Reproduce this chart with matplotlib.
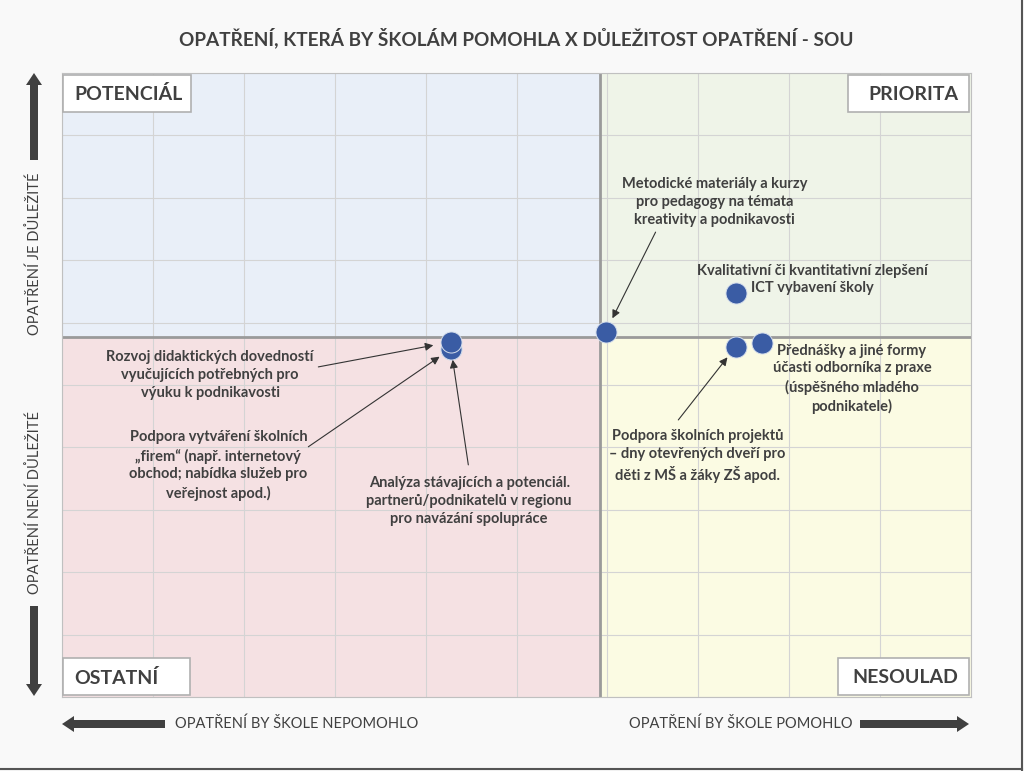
import matplotlib.pyplot as plt
from matplotlib.patches import Rectangle, FancyArrow

plt.rcParams["font.family"] = ["Lato", "DejaVu Sans"]

# Data: position of each measure (x = helped the school, y = importance)
measures = [
    "Metodické materiály a kurzy\npro pedagogy na témata\nkreativity a podnikavosti",
    "Kvalitativní či kvantitativní zlepšení\nICT vybavení školy",
    "Přednášky a jiné formy\núčasti odborníka z praxe\n(úspěšného mladého\npodnikatele)",
    "Podpora školních projektů\n– dny otevřených dveří pro\nděti z MŠ a žáky ZŠ apod.",
    "Rozvoj didaktických dovedností\nvyučujících potřebných pro\nvýuku k podnikavosti",
    "Podpora vytváření školních\n„firem“ (např. internetový\nobchod; nabídka služeb pro\nveřejnost apod.)",
    "Analýza stávajících a potenciál.\npartnerů/podnikatelů v regionu\npro navázání spolupráce",
]
x_help = [5.98, 7.41, 7.70, 7.41, 4.28, 4.28, 4.28]
y_importance = [5.85, 6.47, 5.67, 5.61, 5.69, 5.58, 5.58]
x_split = 5.92
y_split = 5.77

quadrants = ["POTENCIÁL", "PRIORITA", "OSTATNÍ", "NESOULAD"]
title = "OPATŘENÍ, KTERÁ BY ŠKOLÁM POMOHLA X DŮLEŽITOST OPATŘENÍ - SOU"

# Layout for labels: text centre, arrow start (None = no arrow), arrow shrink
label_pos = [(7.18, 7.93), (8.26, 6.69), (8.69, 5.10), (6.99, 3.86),
             (1.63, 5.16), (1.72, 3.71), (4.48, 3.14)]
arrow_from = [(6.53, 7.45), None, None, (6.78, 4.44),
              (2.82, 5.29), (2.71, 4.01), (4.47, 3.72)]
arrow_shrink = [11, 0, 0, 9.5, 13, 10, 8]

TEXT = "#404040"

fig = plt.figure(figsize=(10.24, 7.71), dpi=100, facecolor="#f9f9f9")

ax = fig.add_axes([62 / 1024, 74 / 771, 909 / 1024, 624 / 771])
ax.set_xlim(0, 10)
ax.set_ylim(0, 10)
ax.set_xticks(range(11))
ax.set_yticks(range(11))
ax.tick_params(length=0, labelbottom=False, labelleft=False)
ax.grid(True, color="#d4d4d4", lw=0.8)
ax.set_axisbelow(True)
for s in ax.spines.values():
    s.set_color("#c0c0c0")

# quadrant backgrounds
ax.add_patch(Rectangle((0, y_split), x_split, 10 - y_split, fc="#e9eff8", ec="none", zorder=0))
ax.add_patch(Rectangle((x_split, y_split), 10 - x_split, 10 - y_split, fc="#eff4e8", ec="none", zorder=0))
ax.add_patch(Rectangle((0, 0), x_split, y_split, fc="#f5e1e3", ec="none", zorder=0))
ax.add_patch(Rectangle((x_split, 0), 10 - x_split, y_split, fc="#fbfbe3", ec="none", zorder=0))
ax.axvline(x_split, color="#9a9a9a", lw=2, zorder=1)
ax.axhline(y_split, color="#9a9a9a", lw=2, zorder=1)

# points (reversed so the upper of the two overlapping dots sits in front)
ax.scatter(x_help[::-1], y_importance[::-1], s=230, color="#3a5ca4",
           edgecolor="#d5deec", linewidth=0.7, zorder=5)

# labels with arrows
for name, (tx, ty), start, shrink, px, py in zip(measures, label_pos, arrow_from,
                                                 arrow_shrink, x_help, y_importance):
    ax.text(tx, ty, name, ha="center", va="center", fontsize=10.5,
            fontweight="bold", color=TEXT, linespacing=1.35, zorder=6)
    if start is not None:
        ax.annotate("", xy=(px, py), xytext=start,
                    arrowprops=dict(arrowstyle="-|>", color="#333333", lw=0.8,
                                    mutation_scale=12, shrinkA=0, shrinkB=shrink),
                    zorder=6)

# pixel-space overlay for frame, quadrant boxes, side arrows and captions
bg = fig.add_axes([0, 0, 1, 1])
bg.set_xlim(0, 1024)
bg.set_ylim(771, 0)
bg.axis("off")
bg.patch.set_alpha(0)
bg.plot([1022, 1022], [0, 770], color="#555555", lw=1.5)
bg.plot([0, 1022], [769, 769], color="#555555", lw=1.5)

boxes = [(63, 75, 128, 37, "left"), (848, 75, 121, 37, "right"),
         (63, 658, 127, 37, "left"), (838, 658, 131, 37, "right")]
for (bx, by, bw, bh, ha), name in zip(boxes, quadrants):
    bg.add_patch(Rectangle((bx, by), bw, bh, fc="white", ec="#b0b0b0", lw=1.2, zorder=3))
    tx = bx + 11 if ha == "left" else bx + bw - 11
    bg.text(tx, by + bh / 2 + 1, name, ha=ha, va="center", fontsize=14,
            fontweight="bold", color=TEXT, zorder=4)

# title
bg.text(516, 38, title, ha="center", va="center", fontsize=13.7,
        fontweight="bold", color=TEXT)

arrow_kw = dict(fc="#404040", ec="none", length_includes_head=True,
                width=8, head_width=16, head_length=12)
bg.add_patch(FancyArrow(34, 160, 0, -87, **arrow_kw))
bg.add_patch(FancyArrow(34, 606, 0, 90, **arrow_kw))
bg.add_patch(FancyArrow(165, 724, -103, 0, **arrow_kw))
bg.add_patch(FancyArrow(860, 724, 109, 0, **arrow_kw))

bg.text(35, 254, "OPATŘENÍ JE DŮLEŽITÉ", rotation=90, ha="center", va="center",
        fontsize=10.5, color=TEXT)
bg.text(35, 502, "OPATŘENÍ NENÍ DŮLEŽITÉ", rotation=90, ha="center", va="center",
        fontsize=10.5, color=TEXT)
bg.text(175, 724, "OPATŘENÍ BY ŠKOLE NEPOMOHLO", ha="left", va="center",
        fontsize=10.5, color=TEXT)
bg.text(853, 724, "OPATŘENÍ BY ŠKOLE POMOHLO", ha="right", va="center",
        fontsize=10.5, color=TEXT)

fig.savefig("out.png", dpi=100, facecolor=fig.get_facecolor())
